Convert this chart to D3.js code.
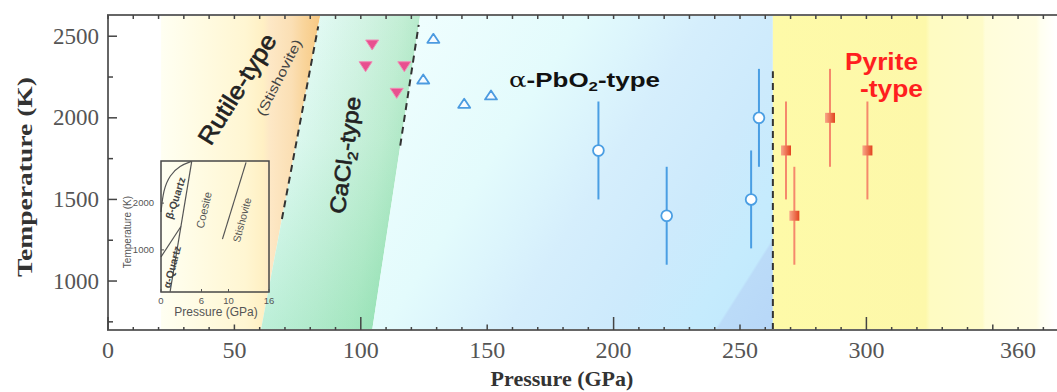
<!DOCTYPE html>
<html>
<head>
<meta charset="utf-8">
<script src="https://cdn.jsdelivr.net/npm/d3@7"></script>
<style>
  html, body { margin: 0; padding: 0; background: #fff; }
  svg { display: block; }
</style>
</head>
<body>
<svg id="chart" width="1057" height="392"></svg>
<script>
// ---- SiO2 phase diagram: pressure (GPa) vs temperature (K) ----

// axis ticks
const xTickValues = [0, 50, 100, 150, 200, 250, 300, 360];
const xTickLabels = ["0", "50", "100", "150", "200", "250", "300", "360"];
const yTickValues = [1000, 1500, 2000, 2500];
const yTickLabels = ["1000", "1500", "2000", "2500"];

// alpha-PbO2-type runs (open circles with error bars)
const pbo2Pressure    = [194, 221, 257.5, 254.4];
const pbo2Temperature = [1800, 1400, 2000, 1500];
const pbo2Error       = [300, 300, 300, 300];

// pyrite-type runs (filled squares with error bars)
const pyritePressure    = [268.2, 271.5, 285.6, 300.4];
const pyriteTemperature = [1800, 1400, 2000, 1800];
const pyriteError       = [300, 300, 300, 300];

// CaCl2-type runs (filled down triangles)
const cacl2Pressure    = [104.5, 101.9, 117.2, 114.2];
const cacl2Temperature = [2446, 2313, 2313, 2150];

// alpha-PbO2-type runs (open up triangles)
const pbo2TriPressure    = [128.7, 124.7, 140.9, 151.5];
const pbo2TriTemperature = [2487, 2238, 2089, 2140];

// phase boundaries [pressure, temperature]
const rutileOnsetPressure  = 21;
const rutileCaCl2Boundary  = [[60.5, 700], [84, 2630]];
const cacl2Pbo2Boundary    = [[104.5, 700], [123.5, 2630]];
const pbo2PyritePressure   = 263;
const pyriteFadePressure   = 375;
const rutileCaCl2Dash      = [[68.8, 1380], [83.15, 2560]];
const cacl2Pbo2Dash        = [[115.6, 1830], [122.9, 2570]];
const pbo2PyriteDash       = [[263, 700], [263, 2285]];

// low-pressure inset (GPa, K)
const insetXTicks = [0, 6, 10, 16];
const insetXLabels = ["0", "6", "10", "16"];
const insetYTicks = [1000, 2000];
const insetYLabels = ["1000", "2000"];
const insetMeltCurve   = [[0, 1810], [0.35, 2280], [1.3, 2600], [2.8, 2800], [4.5, 2890]];
const insetQuartzCoesite = [[4.55, 2890], [1.35, 110]];
const insetAlphaBeta   = [[0, 850], [2.95, 1500]];
const insetCoesiteStish = [[9.1, 1230], [12.6, 2870]];

// ---------------------------------------------------------------
const svg = d3.select("#chart");
const x = d3.scaleLinear().domain([0, 375]).range([108, 1056]);
const y = d3.scaleLinear().domain([700, 2630]).range([330, 15]);
const ix = d3.scaleLinear().domain([0, 16]).range([161, 269]);
const iy = d3.scaleLinear().domain([100, 2900]).range([292, 161]);

const defs = svg.append("defs");
function linGrad(id, x1, y1, x2, y2, stops, units) {
  const g = defs.append("linearGradient").attr("id", id)
    .attr("gradientUnits", units || "userSpaceOnUse")
    .attr("x1", x1).attr("y1", y1).attr("x2", x2).attr("y2", y2);
  stops.forEach(s => g.append("stop").attr("offset", s[0])
    .attr("stop-color", s[1]).attr("stop-opacity", s[2] === undefined ? 1 : s[2]));
}

linGrad("gRutile", x(rutileOnsetPressure), 0, x(84), 0, [
  [0, "#fffff2"], [0.25, "#fffbe2"], [0.53, "#fff6d2"], [0.64, "#fff0c4"],
  [0.68, "#fde8c6"], [0.82, "#fbdfb4"], [0.9, "#f9d49a"], [1, "#f7c882"]]);
linGrad("gCaCl2", 291, 170, 396, 188, [
  [0, "#e2faf4"], [0.45, "#d2f3e3"], [0.8, "#c2eed4"], [1, "#b4e9c9"]]);
linGrad("gCaCl2Shade", 0, y.range()[1], 0, y.range()[0], [
  [0, "#4ccf85", 0], [0.4, "#4ccf85", 0.05], [1, "#4ccf85", 0.25]]);
linGrad("gPbO2", 400, 40, 797, 291.5, [
  [0, "#effefe"], [0.3, "#e3fbfc"], [0.41, "#dcf5fc"], [0.52, "#d5eefc"],
  [0.7, "#cdeafc"], [0.85, "#c5ebfd"], [0.895, "#c3eafd"], [0.9, "#bbdbf8"], [1, "#b7d7f8"]]);
linGrad("gPyrite", x(pbo2PyritePressure), 0, x(pyriteFadePressure), 0, [
  [0, "#fefaa8"], [0.54, "#fdf8aa"], [0.555, "#fefbc2"], [0.74, "#fefbc8"],
  [0.75, "#fffdda"], [0.93, "#fffde2"], [0.945, "#fffff0"], [1, "#ffffff"]]);
linGrad("gSquare", 0, 0, 1, 0, [[0, "#f9a88a"], [1, "#e2431f"]], "objectBoundingBox");

defs.append("clipPath").attr("id", "plotClip").append("rect")
  .attr("x", x(0)).attr("y", y(2630)).attr("width", x(375) - x(0)).attr("height", y(700) - y(2630));

const poly = d3.line().x(d => x(d[0])).y(d => y(d[1]));
const closed = pts => poly(pts) + "Z";

// ---- phase regions ----
const regions = svg.append("g").attr("clip-path", "url(#plotClip)");
const Tlo = 700, Thi = 2630;
regions.append("path").attr("fill", "url(#gRutile)")
  .attr("d", closed([[rutileOnsetPressure, Tlo], [rutileOnsetPressure, Thi], rutileCaCl2Boundary[1], rutileCaCl2Boundary[0]]));
const cacl2Poly = closed([rutileCaCl2Boundary[0], rutileCaCl2Boundary[1], cacl2Pbo2Boundary[1], cacl2Pbo2Boundary[0]]);
regions.append("path").attr("fill", "url(#gCaCl2)").attr("d", cacl2Poly);
regions.append("path").attr("fill", "url(#gCaCl2Shade)").attr("d", cacl2Poly);
regions.append("path").attr("fill", "url(#gPbO2)")
  .attr("d", closed([cacl2Pbo2Boundary[0], cacl2Pbo2Boundary[1], [pbo2PyritePressure, Thi], [pbo2PyritePressure, Tlo]]));
regions.append("path").attr("fill", "url(#gPyrite)")
  .attr("d", closed([[pbo2PyritePressure, Tlo], [pbo2PyritePressure, Thi], [pyriteFadePressure, Thi], [pyriteFadePressure, Tlo]]));

// ---- inset: low-pressure SiO2 phases ----
const inset = svg.append("g");
const iline = d3.line().x(d => ix(d[0])).y(d => iy(d[1]));
[insetMeltCurve, insetQuartzCoesite, insetAlphaBeta, insetCoesiteStish].forEach((pts, i) => {
  inset.append("path")
    .attr("d", i === 0 ? d3.line().curve(d3.curveBasis).x(d => ix(d[0])).y(d => iy(d[1]))(pts) : iline(pts))
    .attr("fill", "none").attr("stroke", "#555").attr("stroke-width", 1.2);
});
inset.append("rect")
  .attr("x", ix(0)).attr("y", iy(2900)).attr("width", ix(16) - ix(0)).attr("height", iy(100) - iy(2900))
  .attr("fill", "none").attr("stroke", "#474747").attr("stroke-width", 1.5);
insetXTicks.forEach((v, i) => {
  inset.append("line").attr("x1", ix(v)).attr("x2", ix(v)).attr("y1", iy(100)).attr("y2", iy(100) - 3)
    .attr("stroke", "#555").attr("stroke-width", 1);
  inset.append("text").attr("x", ix(v)).attr("y", 304).attr("text-anchor", "middle")
    .attr("font-family", "Liberation Sans, Arial, sans-serif").attr("font-size", 9.5).attr("fill", "#555")
    .text(insetXLabels[i]);
});
insetYTicks.forEach((v, i) => {
  inset.append("line").attr("x1", ix(0)).attr("x2", ix(0) + 3).attr("y1", iy(v)).attr("y2", iy(v))
    .attr("stroke", "#555").attr("stroke-width", 1);
  inset.append("text").attr("x", 154).attr("y", iy(v) + 3.3).attr("text-anchor", "end")
    .attr("font-family", "Liberation Sans, Arial, sans-serif").attr("font-size", 9.5).attr("fill", "#555")
    .text(insetYLabels[i]);
});
inset.append("text").attr("x", 216).attr("y", 316).attr("text-anchor", "middle")
  .attr("font-family", "Liberation Sans, Arial, sans-serif").attr("font-size", 12).attr("fill", "#555")
  .text("Pressure (GPa)");
inset.append("text").attr("transform", "translate(131,232) rotate(-90)").attr("text-anchor", "middle")
  .attr("font-family", "Liberation Sans, Arial, sans-serif").attr("font-size", 10).attr("fill", "#555")
  .text("Temperature (K)");
const insetPhaseLabels = [
  { t: "β-Quartz", cx: 175.5, cy: 198, a: -72, w: "bold", c: "#444", s: 10.5 },
  { t: "α-Quartz", cx: 172, cy: 267, a: -75, w: "bold", c: "#444", s: 10.5 },
  { t: "Coesite", cx: 204, cy: 210, a: -77, w: "normal", c: "#555", s: 11 },
  { t: "Stishovite", cx: 242, cy: 220, a: -75, w: "normal", c: "#555", s: 10.5 }
];
insetPhaseLabels.forEach(d => {
  inset.append("text").attr("transform", `translate(${d.cx},${d.cy}) rotate(${d.a})`)
    .attr("text-anchor", "middle").attr("dy", "0.35em")
    .attr("font-family", "Liberation Sans, Arial, sans-serif").attr("font-size", d.s)
    .attr("font-weight", d.w).attr("fill", d.c).text(d.t);
});

// ---- dashed phase boundaries ----
[rutileCaCl2Dash, cacl2Pbo2Dash, pbo2PyriteDash].forEach(seg => {
  svg.append("path").attr("d", poly(seg)).attr("fill", "none")
    .attr("stroke", "#333").attr("stroke-width", 2).attr("stroke-dasharray", "7,5");
});

// ---- phase labels ----
function fitted(g, cx, cy, angle, width) {
  const bb = g.node().getBBox();
  const s = width / bb.width;
  g.attr("transform", `translate(${cx},${cy}) rotate(${angle}) scale(${s},1)`);
}
const sans = "Liberation Sans, Arial, Helvetica, sans-serif";

const rut = svg.append("text").attr("text-anchor", "middle").attr("dy", "0.35em")
  .attr("font-family", sans).attr("font-size", 24).attr("fill", "#222")
  .attr("stroke", "#222").attr("stroke-width", 0.6)
  .text("Rutile-type");
fitted(rut, 237, 89, -58, 126);

const sti = svg.append("text").attr("text-anchor", "middle").attr("dy", "0.35em")
  .attr("font-family", sans).attr("font-size", 13.5).attr("fill", "#444")
  .text("(Stishovite)");
fitted(sti, 279, 77.5, -63, 84);

const cac = svg.append("text").attr("text-anchor", "middle").attr("dy", "0.35em")
  .attr("font-family", sans).attr("font-size", 22).attr("fill", "#222")
  .attr("stroke", "#222").attr("stroke-width", 0.6);
cac.append("tspan").text("CaCl");
cac.append("tspan").attr("font-size", 14).attr("dy", 5).text("2");
cac.append("tspan").attr("dy", -5).text("-type");
fitted(cac, 345, 155, -82, 118);

const pbo = svg.append("text").attr("text-anchor", "middle")
  .attr("font-family", sans).attr("font-weight", "bold").attr("font-size", 20).attr("fill", "#111");
pbo.append("tspan").attr("font-weight", "normal").attr("font-family", "DejaVu Serif, serif").text("α");
pbo.append("tspan").text("-PbO");
pbo.append("tspan").attr("font-size", 13).attr("dy", 4).text("2");
pbo.append("tspan").attr("dy", -4).text("-type");
fitted(pbo, 584.5, 87, 0, 151);

const pyr1 = svg.append("text").attr("text-anchor", "middle")
  .attr("font-family", sans).attr("font-weight", "bold").attr("font-size", 23).attr("fill", "#ff1f1f")
  .text("Pyrite");
fitted(pyr1, 881.5, 70, 0, 73);
const pyr2 = svg.append("text").attr("text-anchor", "middle")
  .attr("font-family", sans).attr("font-weight", "bold").attr("font-size", 23).attr("fill", "#ff1f1f")
  .text("-type");
fitted(pyr2, 891.5, 96.5, 0, 63);

// ---- data marks ----
const marks = svg.append("g");
function errorBars(P, T, E, color) {
  marks.selectAll(null).data(P.map((p, i) => ({ p, t: T[i], e: E[i] }))).join("line")
    .attr("x1", d => x(d.p)).attr("x2", d => x(d.p))
    .attr("y1", d => y(d.t + d.e)).attr("y2", d => y(d.t - d.e))
    .attr("stroke", color).attr("stroke-width", 2);
}
errorBars(pbo2Pressure, pbo2Temperature, pbo2Error, "#4a9ee3");
errorBars(pyritePressure, pyriteTemperature, pyriteError, "#f5896c");

marks.selectAll(null).data(pbo2Pressure.map((p, i) => [p, pbo2Temperature[i]])).join("circle")
  .attr("cx", d => x(d[0])).attr("cy", d => y(d[1])).attr("r", 5.4)
  .attr("fill", "#fff").attr("stroke", "#4a9ee3").attr("stroke-width", 1.8);

marks.selectAll(null).data(pyritePressure.map((p, i) => [p, pyriteTemperature[i]])).join("rect")
  .attr("x", d => x(d[0]) - 5).attr("y", d => y(d[1]) - 5).attr("width", 10).attr("height", 10)
  .attr("fill", "url(#gSquare)");

marks.selectAll(null).data(cacl2Pressure.map((p, i) => [p, cacl2Temperature[i]])).join("path")
  .attr("transform", d => `translate(${x(d[0])},${y(d[1])})`)
  .attr("d", "M-6.5,-5L6.5,-5L0,5Z")
  .attr("fill", "#e8508f").attr("stroke", "#f18ab4").attr("stroke-width", 1);

marks.selectAll(null).data(pbo2TriPressure.map((p, i) => [p, pbo2TriTemperature[i]])).join("path")
  .attr("transform", d => `translate(${x(d[0])},${y(d[1])})`)
  .attr("d", "M0,-4.5L6,4.5L-6,4.5Z")
  .attr("fill", "#f6fbff").attr("stroke", "#4c9be0").attr("stroke-width", 1.8)
  .attr("stroke-linejoin", "round");

// ---- axes ----
const axes = svg.append("g");
const frameColor = "#666", tickColor = "#444";
axes.append("path")
  .attr("d", `M${x(375) + 1},${y(2630)}H${x(0)}V${y(700)}H${x(375) + 1}`)
  .attr("fill", "none").attr("stroke", frameColor).attr("stroke-width", 2);

const minorX = d3.range(0, 371, 10);
axes.selectAll(null).data(minorX).join("line")
  .attr("x1", d => x(d)).attr("x2", d => x(d))
  .attr("y1", y(700)).attr("y2", d => y(700) - (d % 100 === 0 ? 13 : d % 50 === 0 ? 5.5 : 3))
  .attr("stroke", tickColor).attr("stroke-width", 1.5);
axes.selectAll(null).data(minorX).join("line")
  .attr("x1", d => x(d)).attr("x2", d => x(d))
  .attr("y1", y(2630)).attr("y2", y(2630) + 4)
  .attr("stroke", tickColor).attr("stroke-width", 1.5);

const yTicksAll = d3.range(750, 2501, 250);
axes.selectAll(null).data(yTicksAll).join("line")
  .attr("x1", x(0)).attr("x2", d => x(0) + (d % 500 === 0 ? 9 : 5))
  .attr("y1", d => y(d)).attr("y2", d => y(d))
  .attr("stroke", tickColor).attr("stroke-width", 1.5);

const serif = "Liberation Serif, Times New Roman, serif";
axes.selectAll(null).data(xTickValues).join("text")
  .attr("x", d => x(d)).attr("y", 358).attr("text-anchor", "middle")
  .attr("font-family", serif).attr("font-size", 24).attr("fill", "#555")
  .text((d, i) => xTickLabels[i]);
axes.selectAll(null).data(yTickValues).join("text")
  .attr("x", 99).attr("y", d => y(d) + 7.5).attr("text-anchor", "end")
  .attr("font-family", serif).attr("font-size", 23).attr("fill", "#555")
  .text((d, i) => yTickLabels[i]);

axes.append("text").attr("x", 562).attr("y", 386).attr("text-anchor", "middle")
  .attr("font-family", serif).attr("font-weight", "bold").attr("font-size", 22).attr("fill", "#333")
  .text("Pressure (GPa)");
const yTitle = axes.append("text").attr("text-anchor", "middle").attr("dy", "0.35em")
  .attr("font-family", serif).attr("font-weight", "bold").attr("font-size", 22).attr("fill", "#333")
  .text("Temperature (K)");
fitted(yTitle, 24, 177, -90, 200);
</script>
</body>
</html>
